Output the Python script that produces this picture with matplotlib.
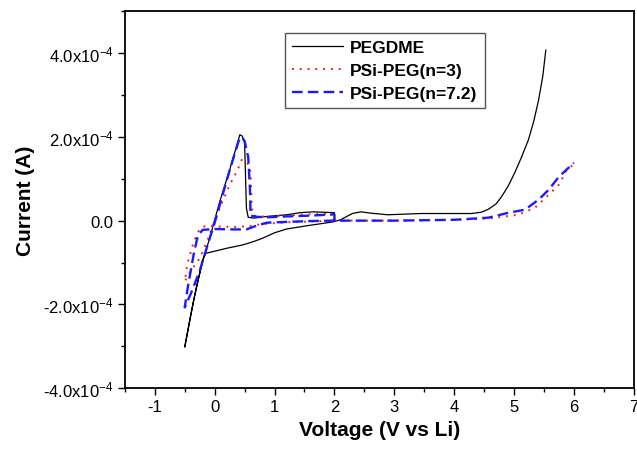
import numpy as np
import matplotlib
matplotlib.use('Agg')
import matplotlib.pyplot as plt
from matplotlib.ticker import MultipleLocator, FuncFormatter

plt.rcParams['font.family'] = ['Liberation Sans', 'DejaVu Sans']
plt.rcParams['mathtext.fontset'] = 'custom'
plt.rcParams['mathtext.rm'] = 'Liberation Sans'
plt.rcParams['mathtext.default'] = 'regular'
plt.rcParams['axes.unicode_minus'] = False

# Значения тока в единицах 1e-4 A
SCALE = 1e-4

pegdme_v = [2.0, 2.0, 1.65, 1.43, 1.2, 0.87, 0.65, 0.56, 0.53, 0.50, 0.46, 0.42,
            0.35, 0.25, 0.08, -0.03, -0.1, -0.2, -0.35, -0.5,
            -0.4, -0.3, -0.2, -0.15, -0.03, 0.2, 0.47, 0.65, 0.8, 1.0, 1.2, 1.55,
            1.98, 2.1, 2.3, 2.44, 2.6, 2.89, 3.45, 4.29, 4.45, 4.57, 4.7, 4.79,
            4.9, 5.01, 5.12, 5.24, 5.33, 5.41, 5.48, 5.53]
pegdme_i = [0.0, 0.19, 0.21, 0.19, 0.14, 0.10, 0.06, 0.08, 0.3, 1.86, 2.02, 2.05,
            1.7, 1.21, 0.43, -0.14, -0.5, -0.95, -1.9, -3.02,
            -2.25, -1.55, -0.95, -0.78, -0.74, -0.66, -0.58, -0.5, -0.42, -0.29,
            -0.2, -0.12, -0.03, 0.02, 0.17, 0.21, 0.18, 0.14, 0.17, 0.17, 0.2,
            0.27, 0.4, 0.57, 0.82, 1.14, 1.5, 1.93, 2.38, 2.88, 3.45, 4.07]

psi3_v = [2.0, 2.0, 1.6, 1.2, 0.9, 0.7, 0.64, 0.62, 0.6, 0.59, 0.52, 0.45,
          0.38, 0.25, 0.1, 0.0, -0.1, -0.25, -0.4, -0.5,
          -0.45, -0.35, -0.25, -0.15, 0.0, 0.3, 0.53, 0.8, 1.2, 1.6, 2.0,
          3.0, 4.0, 4.57, 5.07, 5.35, 5.58, 5.75, 5.88, 6.0]
psi3_i = [0.0, 0.17, 0.15, 0.12, 0.1, 0.1, 0.14, 0.33, 1.1, 1.29, 1.42, 1.45,
          1.2, 0.85, 0.35, 0.0, -0.4, -0.9, -1.2, -1.45,
          -1.0, -0.5, -0.2, -0.12, -0.14, -0.15, -0.14, -0.08, -0.04, -0.02, 0.0,
          0.0, 0.02, 0.05, 0.14, 0.31, 0.62, 0.86, 1.21, 1.35]

psi72_v = [2.0, 2.0, 1.6, 1.2, 0.9, 0.7, 0.6, 0.59, 0.56, 0.5, 0.45, 0.4,
           0.25, 0.1, 0.0, -0.1, -0.25, -0.4, -0.5,
           -0.45, -0.35, -0.28, -0.2, 0.0, 0.3, 0.53, 0.7, 0.87, 1.2, 1.6, 2.0,
           3.0, 4.0, 4.57, 4.91, 5.18, 5.41, 5.58, 5.75, 6.0]
psi72_i = [0.0, 0.15, 0.12, 0.1, 0.08, 0.09, 0.12, 0.74, 1.52, 1.9, 2.0, 1.9,
           1.2, 0.45, -0.05, -0.5, -1.2, -1.75, -2.07,
           -1.6, -0.8, -0.35, -0.22, -0.2, -0.21, -0.21, -0.12, -0.05, -0.03,
           -0.01, 0.0, 0.0, 0.02, 0.07, 0.19, 0.26, 0.5, 0.74, 1.05, 1.38]

labels = ['PEGDME', 'PSi-PEG(n=3)', 'PSi-PEG(n=7.2)']


def fmt_y(val, pos):
    if abs(val) < 1e-12:
        return '0.0'
    return '%.1fx10$^{-4}$' % (val / SCALE)


fig = plt.figure(figsize=(6.37, 4.52), dpi=100)
ax = fig.add_axes([0.196, 0.139, 0.799, 0.834])

ax.plot(pegdme_v, np.array(pegdme_i) * SCALE, color='black', lw=0.9,
        label=labels[0])
ax.plot(psi3_v, np.array(psi3_i) * SCALE, color='#ff1a1a', lw=1.4,
        linestyle=(0, (1, 3)), label=labels[1])
ax.plot(psi72_v, np.array(psi72_i) * SCALE, color='#1a1aff', lw=1.7,
        linestyle=(0, (4.5, 2.2)), label=labels[2])

ax.set_xlim(-1.5, 7)
ax.set_ylim(-4e-4, 5e-4)
ax.xaxis.set_major_locator(MultipleLocator(1))
ax.xaxis.set_minor_locator(MultipleLocator(0.5))
ax.yaxis.set_major_locator(MultipleLocator(2e-4))
ax.yaxis.set_minor_locator(MultipleLocator(1e-4))
ax.yaxis.set_major_formatter(FuncFormatter(fmt_y))

ax.tick_params(which='both', direction='out', top=False, right=False,
               labelsize=12)
ax.tick_params(which='major', length=5, width=1.0, pad=3)
ax.tick_params(which='minor', length=3, width=1.0)
for s in ax.spines.values():
    s.set_linewidth(1.3)

ax.set_xlabel('Voltage (V vs Li)', fontsize=15, fontweight='bold', labelpad=4)
ax.set_ylabel('Current (A)', fontsize=15, fontweight='bold', labelpad=6)

leg = ax.legend(loc='upper left', bbox_to_anchor=(0.314, 0.943),
                prop={'size': 12.5, 'weight': 'bold'}, fancybox=False,
                edgecolor='#555555', framealpha=1, handlelength=2.95,
                handletextpad=0.4, labelspacing=0.45, borderpad=0.42,
                borderaxespad=0)
leg.get_frame().set_linewidth(1.0)

fig.savefig('out.png', dpi=100)
